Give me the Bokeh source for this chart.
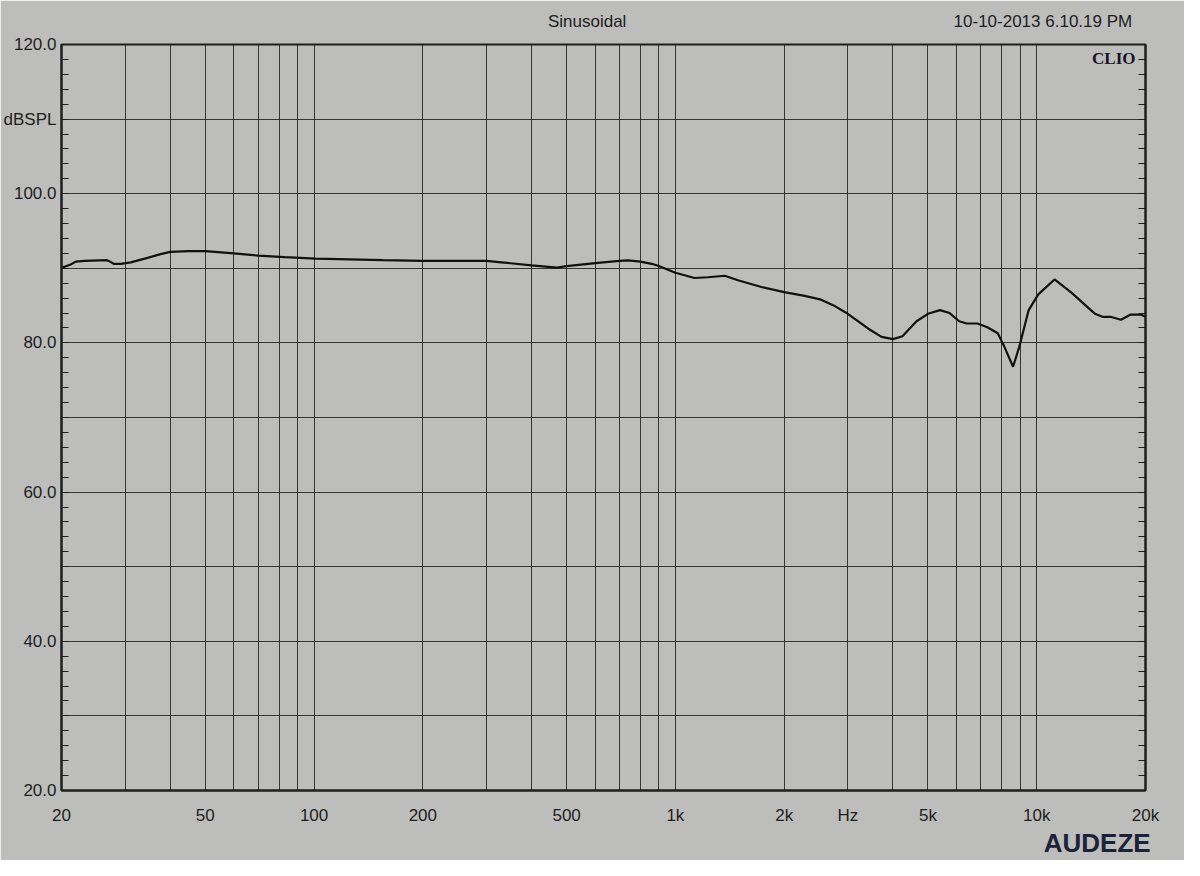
from bokeh.plotting import figure
from bokeh.models import FixedTicker, LinearAxis, LogAxis, Label
from bokeh.embed import file_html
from bokeh.resources import INLINE

# Frequency response (Hz, dBSPL)
freq_hz = [20, 20.4, 21.2, 21.9, 23.2, 26.6, 27.0, 27.9, 29.2, 31.1,
           34.6, 37.6, 40, 45, 50, 60, 70, 83, 101, 155,
           200, 300, 330, 400, 470, 500, 600, 700, 740, 800,
           860, 900, 1000, 1130, 1230, 1370, 1490, 1730, 2000, 2280,
           2530, 2770, 3000, 3420, 3720, 4000, 4250, 4650, 5000, 5400,
           5740, 6100, 6400, 6850, 7300, 7800, 8100, 8600, 8950, 9500,
           10100, 11200, 12500, 13600, 14500, 15200, 16000, 17100, 18200, 19400,
           20000]
spl_db = [90.2, 90.2, 90.5, 90.9, 91.0, 91.1, 91.0, 90.6, 90.6, 90.8,
          91.4, 91.9, 92.2, 92.3, 92.3, 92.0, 91.7, 91.5, 91.3, 91.1,
          91.0, 91.0, 90.8, 90.4, 90.1, 90.3, 90.7, 91.0, 91.05, 90.9,
          90.6, 90.3, 89.4, 88.7, 88.8, 89.0, 88.4, 87.5, 86.8, 86.3,
          85.8, 84.9, 83.9, 81.9, 80.8, 80.5, 80.9, 82.9, 83.9, 84.4,
          84.0, 82.9, 82.6, 82.6, 82.1, 81.3, 79.7, 76.8, 79.5, 84.4,
          86.5, 88.5, 86.7, 85.1, 83.9, 83.5, 83.5, 83.1, 83.8, 83.8,
          83.5]

x_grid = [20, 30, 40, 50, 60, 70, 80, 90, 100, 200, 300, 400, 500, 600, 700, 800,
          900, 1000, 2000, 3000, 4000, 5000, 6000, 7000, 8000, 9000, 10000, 20000]
x_labels = {20: "20", 50: "50", 100: "100", 200: "200", 500: "500", 1000: "1k",
            2000: "2k", 3000: "Hz", 5000: "5k", 10000: "10k", 20000: "20k"}
y_grid = [20, 30, 40, 50, 60, 70, 80, 90, 100, 110, 120]
y_labels = {20: "20.0", 40: "40.0", 60: "60.0", 80: "80.0", 100: "100.0",
            110: "dBSPL", 120: "120.0"}
y_minor = list(range(20, 121, 2))

title_text = "Sinusoidal"
date_text = "10-10-2013 6.10.19 PM"
brand_text = "AUDEZE"

# layout anchors (frequency at which header / footer texts are centred)
title_anchor = 570
date_anchor = 10400
brand_anchor = 14700

paper = "#bdbdbb"
ink = "#1e1e1e"
font = "Liberation Sans"

p = figure(width=1184, height=860, x_axis_type="log", x_range=(20, 20000),
           y_range=(20, 120), output_backend="svg", toolbar_location=None,
           min_border_left=60, min_border_right=39, min_border_top=44,
           min_border_bottom=66, background_fill_color=paper,
           border_fill_color=paper, outline_line_color=ink, outline_line_width=2)

# x axis
xa = p.xaxis[0]
xa.ticker = FixedTicker(ticks=x_grid)
xa.major_label_overrides = {t: x_labels.get(t, "") for t in x_grid}
xa.major_tick_in = 0
xa.major_tick_out = 0
xa.minor_tick_in = 0
xa.minor_tick_out = 0
xa.axis_line_width = 2
xa.axis_line_color = ink
xa.major_label_text_font = font
xa.major_label_text_font_size = "17px"
xa.major_label_text_color = ink
xa.major_label_standoff = 15

# y axis
ya = p.yaxis[0]
ya.ticker = FixedTicker(ticks=y_grid, minor_ticks=y_minor)
ya.major_label_overrides = {t: y_labels.get(t, "") for t in y_grid}
ya.major_tick_in = 0
ya.major_tick_out = 0
ya.minor_tick_in = 7
ya.minor_tick_out = 0
ya.minor_tick_line_color = ink
ya.axis_line_width = 2
ya.axis_line_color = ink
ya.major_label_text_font = font
ya.major_label_text_font_size = "17px"
ya.major_label_text_color = ink
ya.major_label_standoff = 5

# right axis with inward minor ticks
ra = LinearAxis(ticker=FixedTicker(ticks=[], minor_ticks=y_minor))
ra.major_tick_in = 0
ra.major_tick_out = 0
ra.minor_tick_in = 7
ra.minor_tick_out = 0
ra.minor_tick_line_color = ink
ra.axis_line_width = 2
ra.axis_line_color = ink
p.add_layout(ra, "right")

# header texts (title and date) on one line above the frame
hdr = LogAxis(ticker=FixedTicker(ticks=[title_anchor, date_anchor]))
hdr.major_label_overrides = {title_anchor: title_text, date_anchor: date_text}
hdr.axis_line_color = None
hdr.major_tick_in = 0
hdr.major_tick_out = 0
hdr.minor_tick_in = 0
hdr.minor_tick_out = 0
hdr.major_label_standoff = 14
hdr.major_label_text_font = font
hdr.major_label_text_font_size = "17px"
hdr.major_label_text_color = ink
p.add_layout(hdr, "above")

# brand text below the x axis
ftr = LogAxis(ticker=FixedTicker(ticks=[brand_anchor]))
ftr.major_label_overrides = {brand_anchor: brand_text}
ftr.axis_line_color = None
ftr.major_tick_in = 0
ftr.major_tick_out = 0
ftr.minor_tick_in = 0
ftr.minor_tick_out = 0
ftr.major_label_standoff = 0
ftr.major_label_text_font = font
ftr.major_label_text_font_style = "bold"
ftr.major_label_text_font_size = "26px"
ftr.major_label_text_color = "#1c2238"
p.add_layout(ftr, "below")

p.xgrid.ticker = FixedTicker(ticks=x_grid)
p.xgrid.grid_line_color = ink
p.xgrid.grid_line_width = 1
p.xgrid.grid_line_alpha = 0.85
p.ygrid.grid_line_color = ink
p.ygrid.grid_line_width = 1
p.ygrid.grid_line_alpha = 0.85

p.line(freq_hz, spl_db, line_color="#111111", line_width=2.2)

p.add_layout(Label(x=20000, y=120, text="CLIO", text_align="right",
                   text_baseline="top", x_offset=-10, y_offset=-4,
                   text_font="Liberation Serif", text_font_style="bold",
                   text_font_size="17px", text_color="#15152a"))

open("out.html", "w").write(file_html(p, INLINE))
